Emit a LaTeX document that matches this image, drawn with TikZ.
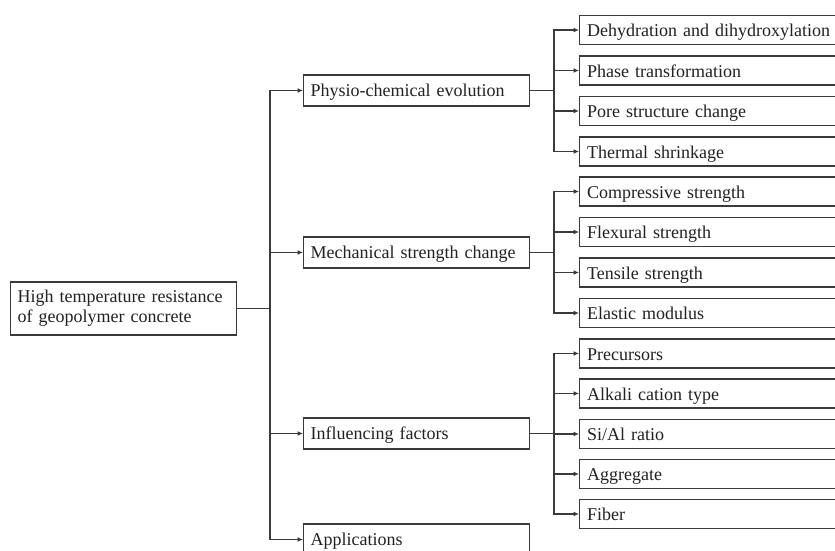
\documentclass[tikz,border=0pt]{standalone}
\usepackage{fontspec}
\setmainfont{Liberation Serif}
\usetikzlibrary{arrows.meta}
\definecolor{ln}{HTML}{3A3A3A}
\definecolor{tx}{HTML}{222222}
\begin{document}
\begin{tikzpicture}[x=1pt,y=-1pt,
  every node/.style={font=\fontsize{18}{20}\selectfont, text=tx},
  box/.style={draw=ln, line width=1.3pt, anchor=west, align=left, inner ysep=0pt},
  lvtwo/.style={box, text width=212pt, inner xsep=7pt, minimum height=31pt, text height=12pt, text depth=0pt},
  lvthree/.style={box, text width=262pt, inner xsep=7.5pt, minimum height=29pt, text height=13pt, text depth=0pt},
  conn/.style={draw=ln, line width=1.3pt},
  arr/.style={conn, -{Latex[length=5.5pt,width=5pt]}}]
\useasboundingbox (0,0) rectangle (835,550);
\fill[white] (0,0) rectangle (835,550);
% root
\node[box, text width=212pt, inner xsep=7pt, minimum height=53pt] (root) at (10,308.5)
  {\mbox{High temperature resistance}\\\mbox{of geopolymer concrete}};
% level 2
\node[lvtwo] (p1) at (303,90.5) {\mbox{Physio-chemical evolution}};
\node[lvtwo] (p2) at (303,252.5) {\mbox{Mechanical strength change}};
\node[lvtwo] (p3) at (303,433.5) {Influencing factors};
\node[lvtwo] (p4) at (303,539.5) {Applications};
% level 3
\node[lvthree] (a1) at (579,30) {\mbox{Dehydration and dihydroxylation}};
\node[lvthree] (a2) at (579,70.5) {Phase transformation};
\node[lvthree] (a3) at (579,111) {Pore structure change};
\node[lvthree] (a4) at (579,151.5) {Thermal shrinkage};
\node[lvthree] (b1) at (579,191.5) {Compressive strength};
\node[lvthree] (b2) at (579,232) {Flexural strength};
\node[lvthree] (b3) at (579,272.5) {Tensile strength};
\node[lvthree] (b4) at (579,313) {Elastic modulus};
\node[lvthree] (c1) at (579,353.5) {Precursors};
\node[lvthree] (c2) at (579,393.5) {Alkali cation type};
\node[lvthree] (c3) at (579,434) {Si/Al ratio};
\node[lvthree] (c4) at (579,474) {Aggregate};
\node[lvthree] (c5) at (579,514) {Fiber};
% bus coordinates
\coordinate (t0) at (270,0);
\coordinate (t1) at (554,0);
% connectors
\foreach \n in {p1,p2,p3,p4}
  \draw[arr] (root.east) -- (root.east -| t0) |- (\n.west);
\foreach \n in {a1,a2,a3,a4}
  \draw[arr] (p1.east) -- (p1.east -| t1) |- (\n.west);
\foreach \n in {b1,b2,b3,b4}
  \draw[arr] (p2.east) -- (p2.east -| t1) |- (\n.west);
\foreach \n in {c1,c2,c3,c4,c5}
  \draw[arr] (p3.east) -- (p3.east -| t1) |- (\n.west);
\end{tikzpicture}
\end{document}
